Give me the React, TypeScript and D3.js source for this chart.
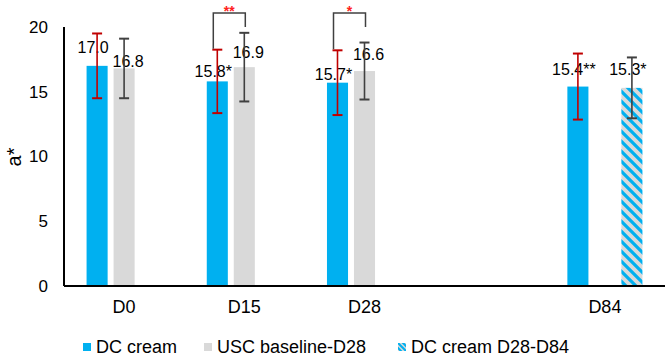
import React from "react";
import * as d3 from "d3";

const categories = ["D0", "D15", "D28", "", "D84"];
const seriesNames = ["DC cream", "USC baseline-D28", "DC cream D28-D84"];
const dcCream = [17.0, 15.8, 15.7, null, 15.4];
const dcCreamSd = [2.5, 2.45, 2.5, null, 2.55];
const dcCreamLabels = ["17.0", "15.8*", "15.7*", "", "15.4**"];
const usc = [16.8, 16.9, 16.6, null, null];
const uscSd = [2.3, 2.65, 2.2, null, null];
const uscLabels = ["16.8", "16.9", "16.6", "", ""];
const dcLate = [null, null, null, null, 15.3];
const dcLateSd = [null, null, null, null, 2.35];
const dcLateLabels = ["", "", "", "", "15.3*"];
const yTicks = [0, 5, 10, 15, 20];
const significance = [
  { cat: "D15", label: "**" },
  { cat: "D28", label: "*" },
];

const W = 667;
const H = 356;
const BLUE = "#00b0f0";
const GRAY = "#d9d9d9";
const RED_ERR = "#c00000";
const DARK = "#404040";
const FONT = "Liberation Sans, Arial, sans-serif";

export default function App() {
  const left = 64;
  const right = 665;
  const y = d3.scaleLinear().domain([0, 20]).range([286, 27]);
  const x0 = d3.scaleBand<string>().domain(categories.map((c, i) => String(i))).range([left, right]).padding(0);
  const x1 = d3.scaleBand<string>().domain(["0", "1", "2"]).range([0, 81]).paddingInner(0.22).paddingOuter(0.11);
  const catCenter = (i: number) => (x0(String(i)) as number) + x0.bandwidth() / 2;
  const barX = (i: number, s: number) => catCenter(i) - 40.5 + (x1(String(s)) as number);
  const bw = x1.bandwidth();

  const series = [
    { vals: dcCream, sd: dcCreamSd, labels: dcCreamLabels, fill: BLUE, err: RED_ERR, labelDx: -4, labelDy: [18, 10, 8, 0, 17] },
    { vals: usc, sd: uscSd, labels: uscLabels, fill: GRAY, err: DARK, labelDx: 4, labelDy: [7, 15, 17, 0, 0] },
    { vals: dcLate, sd: dcLateSd, labels: dcLateLabels, fill: "url(#hatch)", err: DARK, labelDx: -4, labelDy: [0, 0, 0, 0, 18] },
  ];

  return (
    <svg width={W} height={H} style={{ position: "absolute", left: 0, top: 0, background: "#fff" }} fontFamily={FONT}>
      <defs>
        <pattern id="hatch" patternUnits="userSpaceOnUse" width={10} height={10}>
          <rect width={10} height={10} fill={GRAY} />
          <path d="M-3,-3 L13,13 M-3,7 L3,13 M7,-3 L13,3" stroke={BLUE} strokeWidth={3.2} />
        </pattern>
        <pattern id="hatchSmall" patternUnits="userSpaceOnUse" width={5} height={5}>
          <rect width={5} height={5} fill={GRAY} />
          <path d="M-2,-2 L7,7 M-2,3 L2,7 M3,-2 L7,2" stroke={BLUE} strokeWidth={2} />
        </pattern>
      </defs>

      {/* y axis labels */}
      {yTicks.map((t) => (
        <text key={t} x={48} y={y(t)} dy="0.35em" textAnchor="end" fontSize={17} fill="#000">
          {t}
        </text>
      ))}
      <text transform={`translate(14,${157}) rotate(-90)`} textAnchor="middle" fontSize={20} dy="0.35em" fill="#000">
        a*
      </text>

      {/* bars */}
      {series.map((s, si) =>
        s.vals.map((v, i) =>
          v == null ? null : (
            <rect key={`b${si}-${i}`} x={barX(i, si)} y={y(v)} width={bw} height={y(0) - y(v)} fill={s.fill} />
          )
        )
      )}

      {/* axes lines */}
      <line x1={left} x2={left} y1={y(20)} y2={y(0)} stroke="#000" strokeWidth={2} />
      <line x1={left} x2={right} y1={y(0)} y2={y(0)} stroke="#000" strokeWidth={2} />

      {/* labels */}
      {series.map((s, si) =>
        s.vals.map((v, i) =>
          v == null ? null : (
            <text
              key={`l${si}-${i}`}
              x={barX(i, si) + bw / 2 + s.labelDx}
              y={y(v) - s.labelDy[i]}
              dy="0.35em"
              textAnchor="middle"
              fontSize={16}
              fill="#000"
            >
              {s.labels[i]}
            </text>
          )
        )
      )}

      {/* error bars */}
      {series.map((s, si) =>
        s.vals.map((v, i) => {
          const sd = s.sd[i];
          if (v == null || sd == null) return null;
          const cx = barX(i, si) + bw / 2;
          return (
            <g key={`e${si}-${i}`} stroke={s.err} strokeWidth={1.6}>
              <line x1={cx} x2={cx} y1={y(v + sd)} y2={y(v - sd)} />
              <line x1={cx - 5} x2={cx + 5} y1={y(v + sd)} y2={y(v + sd)} strokeWidth={2} />
              <line x1={cx - 5} x2={cx + 5} y1={y(v - sd)} y2={y(v - sd)} strokeWidth={2} />
            </g>
          );
        })
      )}

      {/* significance brackets */}
      {significance.map((sg) => {
        const i = categories.indexOf(sg.cat);
        const lx = barX(i, 0) + bw / 2 - 4;
        const rx = barX(i, 1) + bw / 2 + 1;
        const top = 13;
        const lBottom = y((dcCream[i] as number) + (dcCreamSd[i] as number)) - 1;
        const rBottom = 27;
        return (
          <g key={sg.cat}>
            <path d={`M${lx},${lBottom} L${lx},${top} L${rx},${top} L${rx},${rBottom}`} fill="none" stroke={DARK} strokeWidth={1.5} />
            <text x={(lx + rx) / 2} y={top + 3} textAnchor="middle" fontSize={14} fill="#ff2020" fontWeight="bold">
              {sg.label}
            </text>
          </g>
        );
      })}

      {/* category labels */}
      {categories.map((c, i) =>
        c ? (
          <text key={`c${i}`} x={catCenter(i)} y={307} dy="0.35em" textAnchor="middle" fontSize={18} fill="#000">
            {c}
          </text>
        ) : null
      )}

      {/* legend */}
      {[
        { x: 83, fill: BLUE },
        { x: 204, fill: GRAY },
        { x: 398, fill: "url(#hatchSmall)" },
      ].map((l, k) => (
        <g key={`lg${k}`}>
          <rect x={l.x} y={343} width={8} height={8} fill={l.fill} />
          <text x={l.x + 13} y={347} dy="0.35em" fontSize={18} fill="#000">
            {seriesNames[k]}
          </text>
        </g>
      ))}
    </svg>
  );
}
